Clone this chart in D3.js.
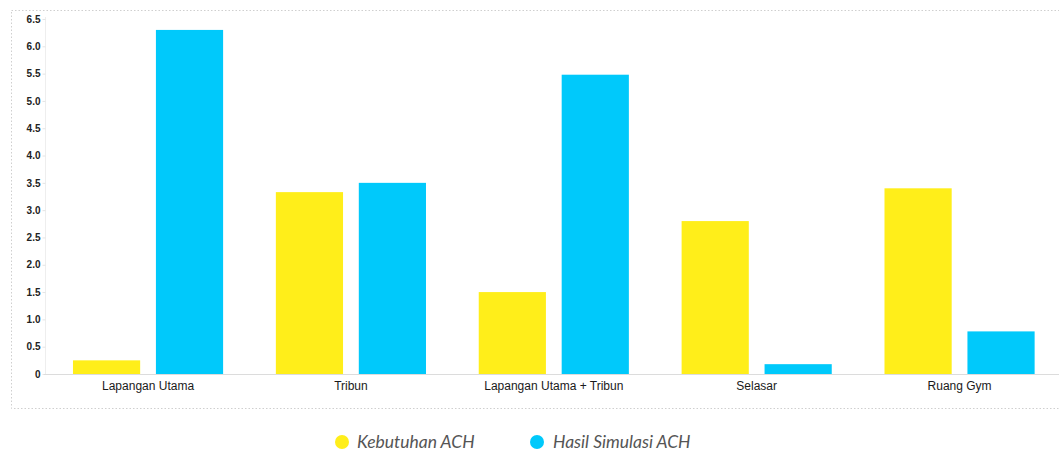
<!DOCTYPE html>
<html>
<head>
<meta charset="utf-8">
<script src="https://cdn.jsdelivr.net/npm/d3@7"></script>
<style>
  html, body { margin: 0; padding: 0; background: #fff; }
  svg { display: block; }
</style>
</head>
<body>
<svg id="chart" width="1059" height="453"></svg>
<script>
// Air changes per hour (ACH) per zone
const categories = ["Lapangan Utama", "Tribun", "Lapangan Utama + Tribun", "Selasar", "Ruang Gym"];
const seriesNames = ["Kebutuhan ACH", "Hasil Simulasi ACH"];
const kebutuhanACH = [0.25, 3.33, 1.5, 2.8, 3.4];
const hasilSimulasiACH = [6.3, 3.5, 5.48, 0.18, 0.78];
const yTicks = [0, 0.5, 1.0, 1.5, 2.0, 2.5, 3.0, 3.5, 4.0, 4.5, 5.0, 5.5, 6.0, 6.5];
const colors = ["#FFEE1A", "#00C9FB"];

const rows = categories.map((c, i) => ({
  category: c,
  values: [kebutuhanACH[i], hasilSimulasiACH[i]]
}));

const svg = d3.select("#chart");

// dotted frame around the plot
svg.append("rect")
  .attr("x", 11.5).attr("y", 10.5)
  .attr("width", 1070).attr("height", 398)
  .attr("fill", "none")
  .attr("stroke", "#cfcfcf")
  .attr("stroke-width", 1)
  .attr("stroke-dasharray", "1.5,2");

const y = d3.scaleLinear().domain([0, 6.5]).range([374, 19]);

const x0 = d3.scaleBand()
  .domain(categories)
  .range([46.6, 1061])
  .paddingInner(0.26)
  .paddingOuter(0.13);

const x1 = d3.scaleBand()
  .domain([0, 1])
  .range([0, x0.bandwidth()])
  .paddingInner(0.19)
  .paddingOuter(0);

// faint vertical axis line
svg.append("line")
  .attr("x1", 45.5).attr("x2", 45.5)
  .attr("y1", 17).attr("y2", 374)
  .attr("stroke", "#eeeeee");

// y axis labels
const yAxis = d3.axisLeft(y)
  .tickValues(yTicks)
  .tickSize(3)
  .tickFormat(d => d === 0 ? "0" : d3.format(".1f")(d));

const yg = svg.append("g")
  .attr("transform", "translate(45.5,0)")
  .call(yAxis);
yg.select(".domain").remove();
yg.selectAll(".tick line").attr("stroke", "#e4e4e4");
yg.selectAll(".tick text")
  .attr("x", -5)
  .attr("fill", "#222")
  .style("font-family", "'Liberation Sans', Arial, sans-serif")
  .style("font-size", "10px")
  .style("font-weight", "bold");

// bars
const groups = svg.append("g")
  .selectAll("g")
  .data(rows)
  .join("g")
  .attr("transform", d => `translate(${x0(d.category)},0)`);

groups.selectAll("rect")
  .data(d => d.values.map((v, k) => ({ k, v })))
  .join("rect")
  .attr("x", d => x1(d.k))
  .attr("width", x1.bandwidth())
  .attr("y", d => y(d.v))
  .attr("height", d => y(0) - y(d.v))
  .attr("fill", d => colors[d.k]);

// x axis baseline and category labels
const xAxis = d3.axisBottom(x0).tickSize(0).tickPadding(7);
const xg = svg.append("g")
  .attr("transform", "translate(0,374.5)")
  .call(xAxis);
xg.select(".domain")
  .attr("d", "M44,0H1059")
  .attr("stroke", "#dcdcdc");
xg.selectAll(".tick text")
  .attr("fill", "#1a1a1a")
  .style("font-family", "'Liberation Sans', Arial, sans-serif")
  .style("font-size", "12px");

// legend
const legendItems = [
  { name: seriesNames[0], color: colors[0], cx: 342, tx: 357 },
  { name: seriesNames[1], color: colors[1], cx: 537, tx: 553 }
];
const lg = svg.append("g");
lg.selectAll("circle")
  .data(legendItems)
  .join("circle")
  .attr("cx", d => d.cx)
  .attr("cy", 442)
  .attr("r", 7)
  .attr("fill", d => d.color);
lg.selectAll("text")
  .data(legendItems)
  .join("text")
  .attr("x", d => d.tx)
  .attr("y", 448)
  .attr("fill", "#555")
  .style("font-family", "Lato, 'Open Sans', sans-serif")
  .style("font-style", "italic")
  .style("font-size", "17.5px")
  .text(d => d.name);
</script>
</body>
</html>
